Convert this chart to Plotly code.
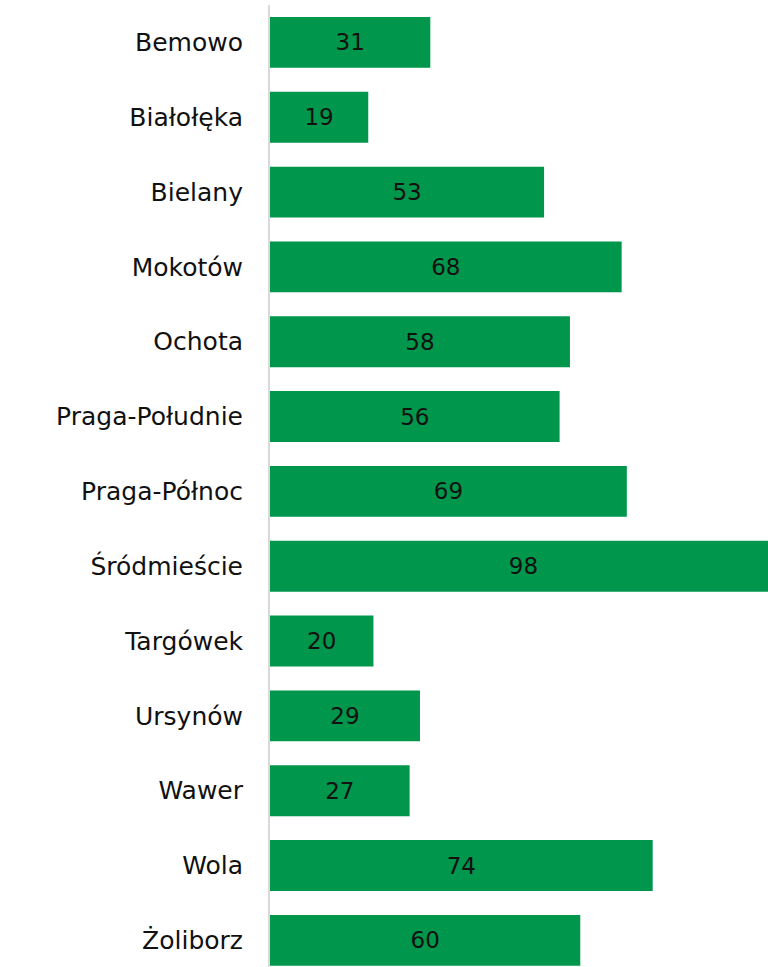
import plotly.graph_objects as go

districts = ["Bemowo", "Białołęka", "Bielany", "Mokotów", "Ochota", "Praga-Południe",
             "Praga-Północ", "Śródmieście", "Targówek", "Ursynów", "Wawer", "Wola", "Żoliborz"]
values = [31, 19, 53, 68, 58, 56, 69, 98, 20, 29, 27, 74, 60]

FONT = "DejaVu Sans"

fig = go.Figure(go.Bar(
    x=values, y=districts, orientation="h",
    marker=dict(color="#00964B", line=dict(width=0)),
    text=[str(v) for v in values], textposition="inside", insidetextanchor="middle",
    textfont=dict(color="#111111", size=23, family=FONT),
    cliponaxis=True,
))

fig.update_layout(
    width=768, height=967,
    margin=dict(l=270, r=0, t=5, b=0),
    paper_bgcolor="white", plot_bgcolor="white",
    bargap=0.32,
    showlegend=False,
    font=dict(family=FONT, size=22, color="#111111"),
    uniformtext=dict(minsize=23, mode="show"),
)
fig.update_xaxes(range=[0, 96.3], visible=False, showgrid=False, zeroline=False)
fig.update_yaxes(
    categoryorder="array", categoryarray=districts,
    range=[12.356, -0.5], showgrid=False, zeroline=False,
    showline=True, linecolor="#d9d9d9", linewidth=2,
    ticks="", ticklabelstandoff=20,
    tickfont=dict(family=FONT, size=25, color="#111111"),
)

fig.write_html("out.html", config={"displayModeBar": False},
               post_script="document.body.style.margin='0';document.body.style.overflow='hidden';")
